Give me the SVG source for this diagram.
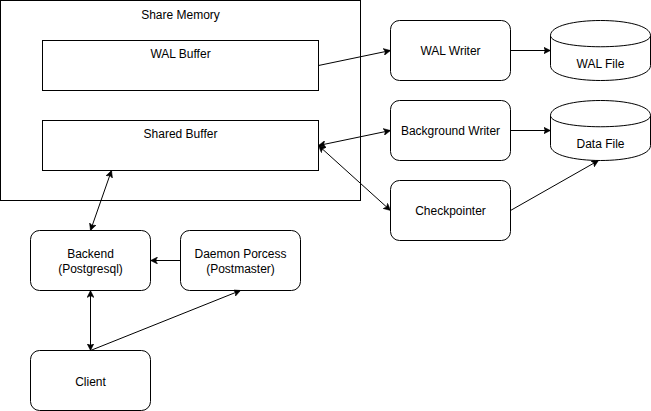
<svg xmlns="http://www.w3.org/2000/svg" width="651" height="411" viewBox="0 0 651 411">
<style>
.box{fill:#fff;stroke:#000;stroke-width:1}
.t{font-family:"Liberation Sans",Arial,Helvetica,sans-serif;font-size:12px;fill:#000;text-anchor:middle}
.e{fill:none;stroke:#000;stroke-width:1}
.a{marker-end:url(#arr)}
.b{marker-start:url(#arr);marker-end:url(#arr)}
</style>
<defs>
<marker id="arr" viewBox="0 0 7 7" refX="7" refY="3.5" markerWidth="7" markerHeight="7" markerUnits="userSpaceOnUse" orient="auto-start-reverse">
<path d="M0,0 L7,3.5 L0,7 L1.75,3.5 Z" fill="#000" stroke="#000" stroke-width="0.5"/>
</marker>
</defs>
<rect x="0" y="0" width="651" height="411" fill="#fff"/>
<g transform="translate(0.5,0.5)">
<g id="share-memory">
<rect class="box" x="0" y="0" width="360" height="200"/>
<text class="t" x="180" y="18">Share Memory</text>
</g>
<g id="wal-buffer">
<rect class="box" x="42" y="40" width="276" height="50"/>
<text class="t" x="180" y="57.5">WAL Buffer</text>
</g>
<g id="shared-buffer">
<rect class="box" x="42" y="120" width="276" height="50"/>
<text class="t" x="180" y="137.5">Shared Buffer</text>
</g>
<g id="wal-writer">
<rect class="box" x="390" y="20" width="120" height="60" rx="9"/>
<text class="t" x="450" y="54.5">WAL Writer</text>
</g>
<g id="background-writer">
<rect class="box" x="390" y="100" width="120" height="60" rx="9"/>
<text class="t" x="450" y="134.5">Background Writer</text>
</g>
<g id="checkpointer">
<rect class="box" x="390" y="180" width="120" height="60" rx="9"/>
<text class="t" x="450" y="214.5">Checkpointer</text>
</g>
<g id="wal-file">
<path class="box" d="M550,35 C550,15 650,15 650,35 L650,65 C650,85 550,85 550,65 Z"/>
<path class="e" d="M550,35 C550,50 650,50 650,35"/>
<text class="t" x="600" y="67">WAL File</text>
</g>
<g id="data-file">
<path class="box" d="M550,115 C550,95 650,95 650,115 L650,145 C650,165 550,165 550,145 Z"/>
<path class="e" d="M550,115 C550,130 650,130 650,115"/>
<text class="t" x="600" y="147">Data File</text>
</g>
<g id="backend">
<rect class="box" x="30" y="230" width="120" height="60" rx="9"/>
<text class="t" x="90" y="257.5">Backend</text>
<text class="t" x="90" y="272.5">(Postgresql)</text>
</g>
<g id="daemon">
<rect class="box" x="180" y="230" width="120" height="60" rx="9"/>
<text class="t" x="240" y="257.5">Daemon Porcess</text>
<text class="t" x="240" y="272.5">(Postmaster)</text>
</g>
<g id="client">
<rect class="box" x="30" y="350" width="120" height="60" rx="9"/>
<text class="t" x="90" y="385.5">Client</text>
</g>
<g id="connectors">
<line class="e a" x1="318" y1="65" x2="390" y2="50"/>
<line class="e a" x1="510" y1="50" x2="550" y2="50"/>
<line class="e b" x1="318" y1="145" x2="390" y2="130"/>
<line class="e b" x1="318" y1="145" x2="390" y2="210"/>
<line class="e a" x1="510" y1="130" x2="550" y2="130"/>
<line class="e a" x1="510" y1="210" x2="598" y2="160"/>
<line class="e b" x1="90" y1="230" x2="111" y2="170"/>
<line class="e a" x1="180" y1="260" x2="150" y2="260"/>
<line class="e b" x1="90" y1="290" x2="90" y2="350"/>
<line class="e a" x1="90" y1="350" x2="240" y2="290"/>
</g>
</g>
</svg>
